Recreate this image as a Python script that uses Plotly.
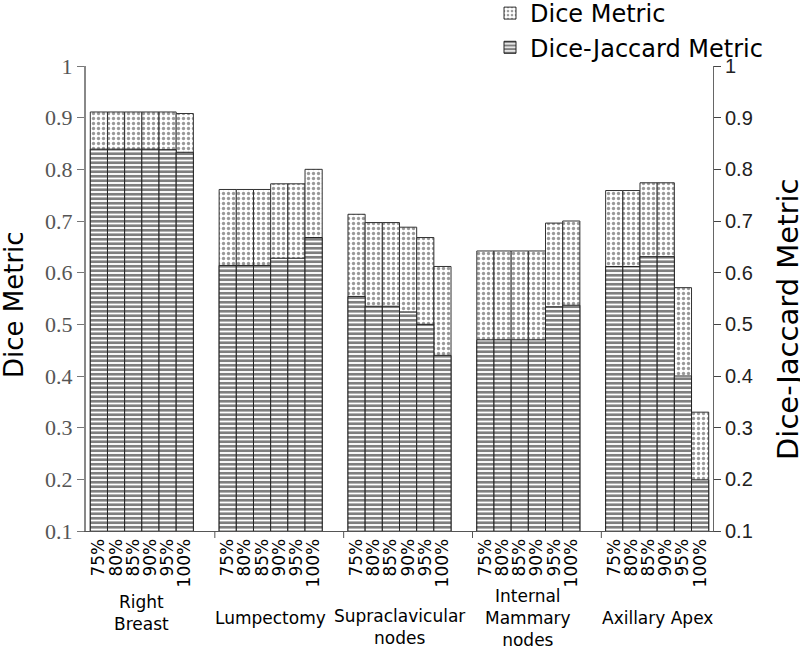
import plotly.graph_objects as go

groups = ["Right<br>Breast", "Lumpectomy", "Supraclavicular<br>nodes",
          "Internal<br>Mammary<br>nodes", "Axillary Apex"]
thresholds = ["75%", "80%", "85%", "90%", "95%", "100%"]

dice = [
    [0.911, 0.911, 0.911, 0.911, 0.911, 0.908],   # Right Breast
    [0.761, 0.761, 0.761, 0.772, 0.772, 0.800],   # Lumpectomy
    [0.713, 0.697, 0.697, 0.688, 0.668, 0.612],   # Supraclavicular nodes
    [0.642, 0.642, 0.642, 0.642, 0.696, 0.700],   # Internal Mammary nodes
    [0.759, 0.759, 0.774, 0.774, 0.571, 0.330],   # Axillary Apex
]
dice_jaccard = [
    [0.839, 0.839, 0.839, 0.839, 0.838, 0.833],
    [0.614, 0.614, 0.614, 0.628, 0.628, 0.668],
    [0.554, 0.535, 0.535, 0.524, 0.500, 0.440],
    [0.470, 0.470, 0.470, 0.470, 0.534, 0.537],
    [0.612, 0.612, 0.631, 0.631, 0.400, 0.199],
]

STRIDE = 7.5
xpos, dvals, djvals, ticktext = [], [], [], []
for g in range(len(groups)):
    for j in range(len(thresholds)):
        xpos.append(g * STRIDE + j)
        dvals.append(dice[g][j])
        djvals.append(dice_jaccard[g][j])
        ticktext.append(thresholds[j])

fig = go.Figure()
fig.add_trace(go.Bar(
    x=xpos, y=dvals, width=1, name="Dice Metric",
    marker=dict(color="white", line=dict(color="#333333", width=1),
                pattern=dict(shape=".", size=5, solidity=0.35,
                             fgcolor="#333333", bgcolor="white")),
    yaxis="y",
))
fig.add_trace(go.Bar(
    x=xpos, y=djvals, width=1, name="Dice-Jaccard Metric",
    marker=dict(color="white", line=dict(color="#222222", width=1),
                pattern=dict(shape="-", size=4.5, solidity=0.6,
                             fgcolor="black", bgcolor="white")),
    yaxis="y2",
))

sans = "DejaVu Sans"
H = 465.0
def py(p):
    return (531 - p) / H

annots = []
label_y = [613, 618, 627, 618, 618]
for g, name in enumerate(groups):
    annots.append(dict(x=g * STRIDE + 2.5, xref="x", y=py(label_y[g]), yref="paper",
                       text=name, showarrow=False, yanchor="middle", xanchor="center",
                       font=dict(family=sans, size=17, color="black")))
annots.append(dict(x=(14 - 86) / 627, xref="paper", y=py(305), yref="paper",
                   text="Dice Metric", textangle=-90, showarrow=False,
                   xanchor="center", yanchor="middle",
                   font=dict(family=sans, size=26, color="black")))
annots.append(dict(x=(788 - 86) / 627, xref="paper", y=py(320), yref="paper",
                   text="Dice-Jaccard Metric", textangle=-90, showarrow=False,
                   xanchor="center", yanchor="middle",
                   font=dict(family=sans, size=29, color="black")))

shapes = []
for g in range(1, len(groups)):
    xs = g * STRIDE - 0.75
    shapes.append(dict(type="line", xref="x", yref="paper", x0=xs, x1=xs,
                       y0=0, y1=-7 / H, line=dict(color="#555555", width=1)))

fig.update_layout(
    width=800, height=649,
    margin=dict(l=86, r=87, t=66, b=118, autoexpand=False),
    paper_bgcolor="white", plot_bgcolor="white",
    barmode="overlay",
    showlegend=True,
    legend=dict(x=(490 - 86) / 627, y=py(-9), xanchor="left", yanchor="top",
                font=dict(family=sans, size=24, color="black"),
                bgcolor="rgba(0,0,0,0)", tracegroupgap=0, itemwidth=30),
    xaxis=dict(range=[-0.75, 4 * STRIDE + 6 - 0.25], tickmode="array",
               tickvals=xpos, ticktext=ticktext, tickangle=-90,
               tickfont=dict(family=sans, size=17, color="black"),
               showline=True, linecolor="#555555", linewidth=1,
               ticks="", showgrid=False, zeroline=False, automargin=False),
    yaxis=dict(range=[0.1, 1.0], dtick=0.1, tick0=0.1,
               showline=True, linecolor="#888888", linewidth=2,
               ticks="outside", ticklen=7, tickcolor="#777777",
               tickfont=dict(family="Liberation Serif", size=22, color="#555555"),
               showgrid=False, zeroline=False, automargin=False),
    yaxis2=dict(range=[0.1, 1.0], dtick=0.1, tick0=0.1, overlaying="y", side="right",
                showline=True, linecolor="#666666", linewidth=1,
                ticks="outside", ticklen=7, tickcolor="#444444",
                tickfont=dict(family="Liberation Sans", size=20, color="#222222"),
                showgrid=False, zeroline=False, automargin=False),
    annotations=annots,
    shapes=shapes,
)

fig.write_html("out.html", config={"displayModeBar": False},
               post_script="document.body.style.margin='0';document.body.style.overflow='hidden';")
